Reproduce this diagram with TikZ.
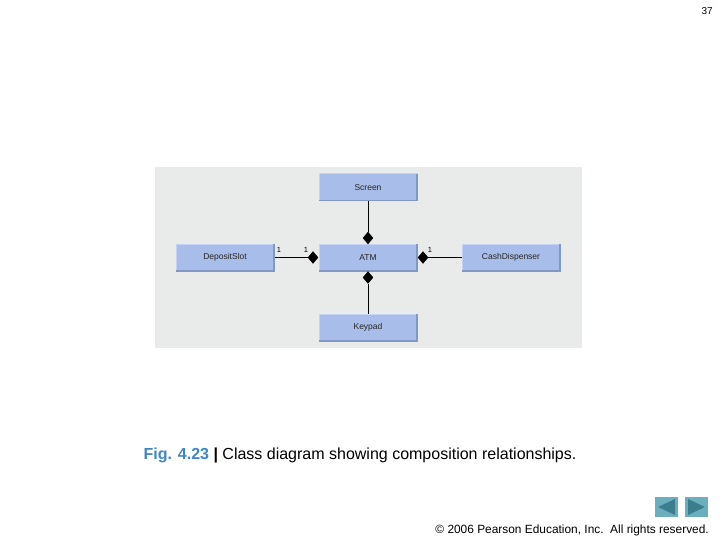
\documentclass[tikz,border=0pt]{standalone}
\usepackage{fontspec}
\setmainfont{Liberation Sans}
\usetikzlibrary{shapes.geometric}
\definecolor{panel}{HTML}{E9EBEB}
\definecolor{boxfill}{HTML}{A8BDE9}
\definecolor{boxlight}{HTML}{C4D3F3}
\definecolor{boxdark}{HTML}{8297C4}
\definecolor{figblue}{HTML}{3F86C6}
\definecolor{navbg}{HTML}{6BAFBE}
\definecolor{navtri}{HTML}{3C7E8E}
\tikzset{
  cls/.style={rectangle, fill=boxfill, draw=boxlight, line width=1pt, minimum width=98pt, minimum height=27pt, inner sep=0pt, font=\fontsize{8.5}{10}\selectfont, text=black!85},
  dia/.style={diamond, fill=black, draw=black, inner sep=0pt, minimum width=10pt, minimum height=12pt},
  conn/.style={draw=black, line width=1pt},
  mult/.style={font=\fontsize{7.5}{9}\selectfont, inner sep=0pt},
}
\newcommand{\bevel}[1]{%
  \draw[boxdark, line width=1.5pt] ([xshift=0.5pt,yshift=0.75pt]#1.south west) -- ([xshift=-0.75pt,yshift=0.75pt]#1.south east) -- ([xshift=-0.75pt,yshift=-0.5pt]#1.north east);}
\begin{document}
\begin{tikzpicture}[x=1pt,y=-1pt]
\useasboundingbox (0,0) rectangle (720,540);
\fill[white] (0,0) rectangle (720,540);
\fill[panel] (155,167) rectangle (582,348);
\node[cls] (screen) at (368,187.5) {Screen};
\node[cls] (atm) at (368,257.5) {ATM};
\node[cls] (deposit) at (225,257.5) {DepositSlot};
\node[cls] (cash) at (511,257.5) {CashDispenser};
\node[cls] (keypad) at (368,327.5) {Keypad};
\bevel{screen}\bevel{atm}\bevel{deposit}\bevel{cash}\bevel{keypad}
\node[dia] (dtop) at (368,238) {};
\node[dia] (dbot) at (368,277.5) {};
\node[dia] (dleft) at (313,257.5) {};
\node[dia] (dright) at (423,257.5) {};
\draw[conn] (screen.south) -- (dtop.north);
\draw[conn] (keypad.north) -- (dbot.south);
\draw[conn] (deposit.east) -- (dleft.west);
\draw[conn] (cash.west) -- (dright.east);
\node[mult] (m1) at (279,250) {1};
\node[mult] (m2) at (306,250) {1};
\node[mult] (m3) at (430,250) {1};
\node[anchor=base, inner sep=0pt, font=\fontsize{16}{19}\selectfont] (cap) at (360,459) {\textcolor{figblue}{\textbf{Fig. 4.23}} \textbf{|} Class diagram showing composition relationships.};
\node[anchor=base east, inner sep=0pt, font=\fontsize{11.9}{14}\selectfont] (copy) at (709,533) {\textcopyright{} 2006 Pearson Education, Inc.\ \ All rights reserved.};
\node[anchor=base east, inner sep=0pt, font=\fontsize{10}{12}\selectfont] (page) at (713,15) {37};
\fill[navbg] (655,497) rectangle (678,517);
\fill[navbg] (685,497) rectangle (708,517);
\fill[navtri] (658,507) -- (675,499) -- (675,515) -- cycle;
\fill[navtri] (705,507) -- (688,499) -- (688,515) -- cycle;
\end{tikzpicture}
\end{document}
